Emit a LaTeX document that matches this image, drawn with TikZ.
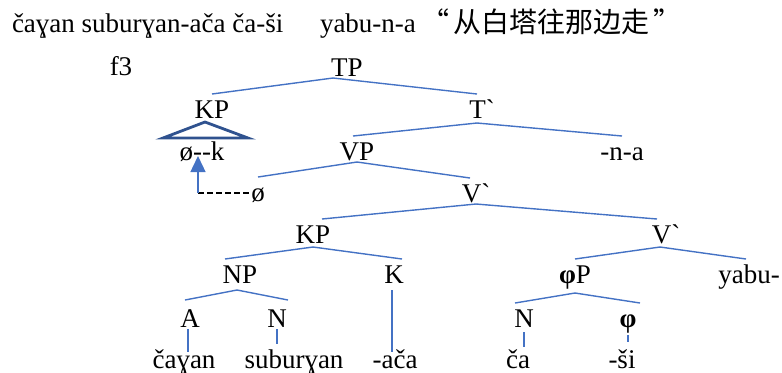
\documentclass[tikz,border=0pt]{standalone}
\usepackage{fontspec}
\setmainfont{Liberation Serif}[Ligatures=TeXOff]
\newfontfamily\cjk{Noto Sans CJK SC}
\usetikzlibrary{arrows.meta}
\definecolor{branch}{HTML}{4472C4}
\definecolor{roofblue}{HTML}{2F528F}

\begin{document}
\begin{tikzpicture}[x=0.5pt, y=-0.5pt,
  every node/.style={inner sep=0pt, outer sep=0pt, font=\fontsize{13.5}{16}\selectfont},
  lbl/.style={anchor=base, text height=12pt, text depth=1pt},
  edge/.style={draw=branch, line width=0.7pt},
  roof/.style={draw=roofblue, line width=1.4pt, line join=miter},
  move/.style={draw=branch, line width=0.7pt, -{Triangle[width=7.5pt,length=8pt]}},
  chain/.style={draw=black, line width=1.3pt, dash pattern=on 3.2pt off 1.3pt}]
\useasboundingbox (0,0) rectangle (782,372);

\node[anchor=base west] (gloss) at (12,32) {čaɣan suburɣan-ača ča-ši};
\node[anchor=base west] (trans) at (320,32) {yabu-n-a\hspace{3pt}{\cjk\fontsize{14}{16}\selectfont “\hspace{2pt}从白塔往那边走\hspace{2pt}”}};
\node[anchor=base] (f3) at (121,75) {f3};

\node[lbl] (tp) at (347,76) {TP};
\node[lbl] (kp1) at (212,118) {KP};
\node[lbl] (tbar) at (482,118) {T`};
\node[lbl] (kphead) at (202,160) {ø--k};
\node[lbl] (vp) at (357,160) {VP};
\node[lbl] (nega) at (622,160) {-n-a};
\node[lbl] (trace) at (258,201) {ø};
\node[lbl] (vbar1) at (476,202) {V`};
\node[lbl] (kp2) at (313,243) {KP};
\node[lbl] (vbar2) at (666,243) {V`};
\node[lbl] (np) at (240,283) {NP};
\node[lbl] (k) at (394,283) {K};
\node[lbl] (phip) at (575,283) {\textbf{φ}P};
\node[lbl] (yabu) at (749,283) {yabu-};
\node[lbl] (a) at (190,327) {A};
\node[lbl] (n1) at (277,327) {N};
\node[lbl] (n2) at (524,327) {N};
\node[lbl] (phi) at (628,327) {\textbf{φ}};
\node[lbl] (cagan) at (184,368) {čaɣan};
\node[lbl] (suburgan) at (294,368) {suburɣan};
\node[lbl] (aca) at (395,368) {-ača};
\node[lbl] (ca) at (518,368) {ča};
\node[lbl] (si) at (622,368) {-ši};

\draw[edge] ([xshift=-7pt]tp.south) -- (kp1.north);
\draw[edge] ([xshift=-7pt]tp.south) -- ([xshift=-2.5pt]tbar.north);
\draw[edge] ([xshift=-2.5pt,yshift=-1.5pt]tbar.south) -- ([xshift=-2pt]vp.north);
\draw[edge] ([xshift=-2.5pt,yshift=-1.5pt]tbar.south) -- (nega.north);
\draw[edge] (vp.south) -- (trace.north);
\draw[edge] (vp.south) -- ([xshift=-3pt]vbar1.north);
\draw[edge] (vbar1.south) -- ([xshift=4.5pt]kp2.north);
\draw[edge] (vbar1.south) -- ([xshift=-4.5pt]vbar2.north);
\draw[edge] ([yshift=-1pt]kp2.south) -- ([xshift=-7.5pt]np.north);
\draw[edge] ([yshift=-1pt]kp2.south) -- ([xshift=4pt]k.north);
\draw[edge] ([xshift=-1.5pt,yshift=-2.5pt]np.south) -- ([xshift=-2.5pt,yshift=1.5pt]a.north);
\draw[edge] ([xshift=-1.5pt,yshift=-2.5pt]np.south) -- ([xshift=5.5pt,yshift=1.5pt]n1.north);
\draw[edge] ([xshift=-3pt,yshift=-1pt]vbar2.south) -- (phip.north);
\draw[edge] ([xshift=-3pt,yshift=-1pt]vbar2.south) -- ([xshift=-1.5pt]yabu.north);
\draw[edge] ([yshift=-4pt]phip.south) -- ([xshift=-4.5pt]n2.north);
\draw[edge] ([yshift=-4pt]phip.south) -- ([xshift=6pt]phi.north);

% leaves
\draw[edge] ([xshift=-1pt]a.south) -- ([xshift=-1pt,yshift=-4pt]a.south |- cagan.north);
\draw[edge] (n1.south) -- (n1.south |- suburgan.north);
\draw[edge] ([xshift=-1pt,yshift=-2.5pt]k.south) -- ([xshift=-1pt,yshift=-4pt]k.south |- aca.north);
\draw[edge] ([yshift=-1.5pt]n2.south) -- ([yshift=-1.5pt]n2.south |- ca.north);
\draw[edge] ([yshift=-3pt]phi.south) -- ([yshift=1pt]phi.south |- si.north);

% roof over the moved KP
\draw[roof] ([xshift=-3.5pt,yshift=-1pt]kp1.south) -- ++(-42,16) -- ++(85,0) -- cycle;

% trace and movement arrow
\coordinate (trend) at (198,193);
\draw[chain] (trend) -- (trend -| trace.west);
\draw[move] (trend) -- ([yshift=2pt]trend |- kphead.base);
\end{tikzpicture}
\end{document}
